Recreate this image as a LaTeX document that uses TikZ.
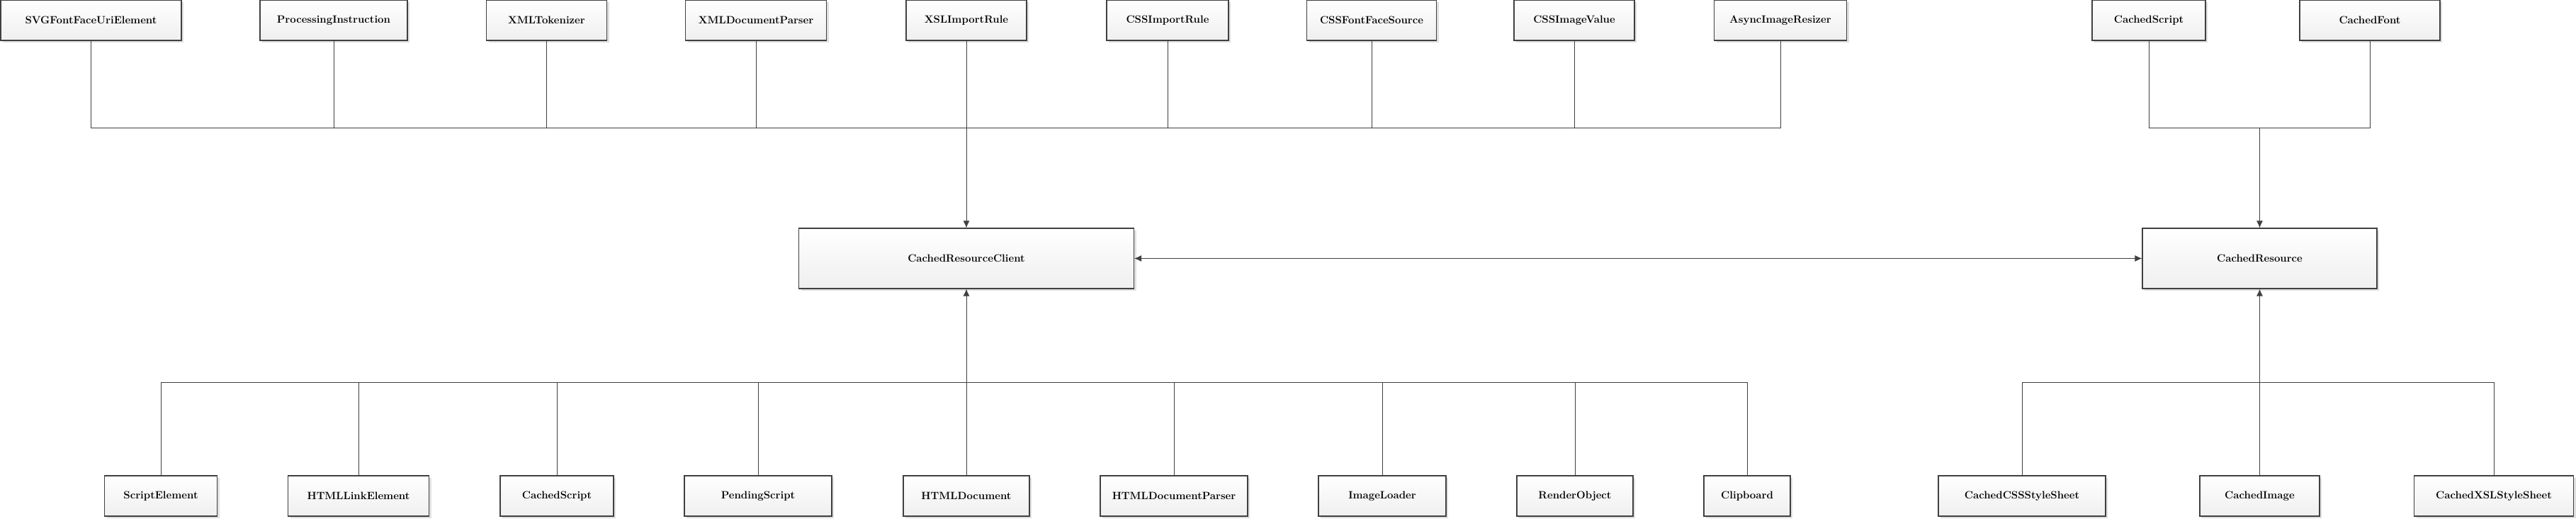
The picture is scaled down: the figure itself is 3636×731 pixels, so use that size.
\documentclass[tikz,border=0pt]{standalone}
\usetikzlibrary{arrows.meta,shadows}
\definecolor{edge}{HTML}{404040}
\definecolor{boxlow}{HTML}{EFEFEF}
\tikzset{
  cls/.style={draw=edge,line width=1.1pt,top color=white,bottom color=boxlow,
    inner sep=0pt,minimum height=57pt,font=\fontsize{15}{18}\selectfont\bfseries,
    drop shadow={shadow xshift=3pt,shadow yshift=-3pt,fill=black!12,opacity=1}},
  bigcls/.style={cls,minimum height=85pt},
  link/.style={draw=edge,line width=1pt},
  tip/.style={link,-{Latex[length=10pt,width=9pt]}},
  twotip/.style={link,{Latex[length=10pt,width=9pt]}-{Latex[length=10pt,width=9pt]}},
}
\begin{document}
\begin{tikzpicture}[x=1pt,y=-1pt]
\useasboundingbox (0,0) rectangle (3636,731);
% clients above
\node[cls,minimum width=255pt] (svg) at (128.5,28.5) {SVGFontFaceUriElement};
\node[cls,minimum width=208pt] (procins) at (471,28.5) {ProcessingInstruction};
\node[cls,minimum width=170pt] (xmltok) at (771.5,28.5) {XMLTokenizer};
\node[cls,minimum width=199pt] (xmldocp) at (1067,28.5) {XMLDocumentParser};
\node[cls,minimum width=170pt] (xslimp) at (1364,28.5) {XSLImportRule};
\node[cls,minimum width=172pt] (cssimp) at (1648,28.5) {CSSImportRule};
\node[cls,minimum width=183pt] (cssffs) at (1936,28.5) {CSSFontFaceSource};
\node[cls,minimum width=170pt] (cssimg) at (2222,28.5) {CSSImageValue};
\node[cls,minimum width=187pt] (asyncres) at (2513,28.5) {AsyncImageResizer};
\node[cls,minimum width=160pt] (cscripttop) at (3033,28.5) {CachedScript};
\node[cls,minimum width=198pt] (cfont) at (3345,28.5) {CachedFont};
% the two main classes
\node[bigcls,minimum width=473pt] (client) at (1364,364.5) {CachedResourceClient};
\node[bigcls,minimum width=331pt] (resource) at (3189.5,364.5) {CachedResource};
% clients below
\node[cls,minimum width=159pt] (scriptel) at (227,699.5) {ScriptElement};
\node[cls,minimum width=199pt] (linkel) at (506,699.5) {HTMLLinkElement};
\node[cls,minimum width=160pt] (cscriptlow) at (786,699.5) {CachedScript};
\node[cls,minimum width=208pt] (pending) at (1070,699.5) {PendingScript};
\node[cls,minimum width=178pt] (htmldoc) at (1364,699.5) {HTMLDocument};
\node[cls,minimum width=208pt] (htmldocp) at (1657,699.5) {HTMLDocumentParser};
\node[cls,minimum width=180pt] (imgload) at (1951,699.5) {ImageLoader};
\node[cls,minimum width=164pt] (renderobj) at (2223,699.5) {RenderObject};
\node[cls,minimum width=122pt] (clipboard) at (2466,699.5) {Clipboard};
\node[cls,minimum width=236pt] (ccss) at (2854,699.5) {CachedCSSStyleSheet};
\node[cls,minimum width=169pt] (cimage) at (3189.5,699.5) {CachedImage};
\node[cls,minimum width=225pt] (cxsl) at (3520,699.5) {CachedXSLStyleSheet};
% bus points
\coordinate (topbus) at (1364,180);
\coordinate (lowbus) at (1364,539);
\coordinate (rtopbus) at (3189.5,180);
\coordinate (rlowbus) at (3189.5,539);
\foreach \n in {svg,procins,xmltok,xmldocp,xslimp,cssimp,cssffs,cssimg,asyncres}
  \draw[link] (\n.south) |- (topbus);
\foreach \n in {scriptel,linkel,cscriptlow,pending,htmldoc,htmldocp,imgload,renderobj,clipboard}
  \draw[link] (\n.north) |- (lowbus);
\foreach \n in {cscripttop,cfont}
  \draw[link] (\n.south) |- (rtopbus);
\foreach \n in {ccss,cimage,cxsl}
  \draw[link] (\n.north) |- (rlowbus);
\draw[tip] (topbus) -- (client.north);
\draw[tip] (lowbus) -- (client.south);
\draw[tip] (rtopbus) -- (resource.north);
\draw[tip] (rlowbus) -- (resource.south);
\draw[twotip] (client.east) -- (resource.west);
\end{tikzpicture}
\end{document}
